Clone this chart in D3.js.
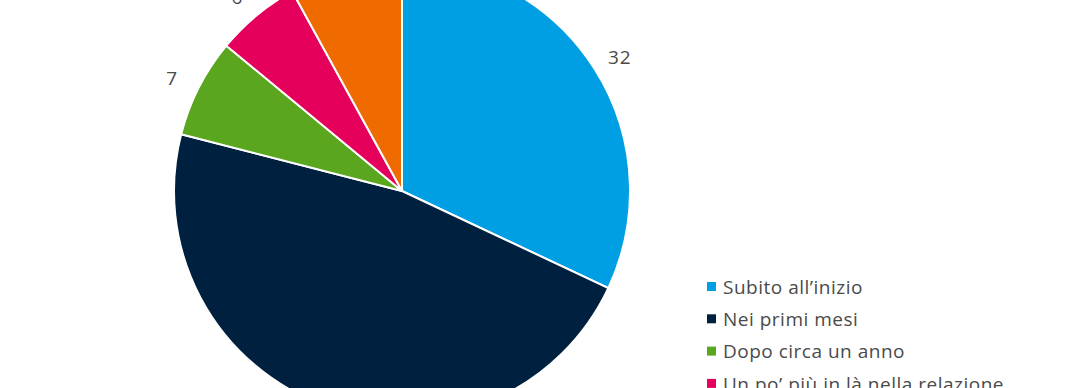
<!DOCTYPE html>
<html>
<head>
<meta charset="utf-8">
<script src="https://cdn.jsdelivr.net/npm/d3@7"></script>
<style>
  body { margin: 0; background: #fff; overflow: hidden; }
  text { font-family: "Open Sans", Lato, sans-serif; fill: #4a4a4a; }
</style>
</head>
<body>
<div id="main"></div>
<script>
// categories & values (percent), clockwise from 12 o'clock
var categories = ['Subito all\u2019inizio', 'Nei primi mesi', 'Dopo circa un anno', 'Un po\u2019 più in là nella relazione', 'Non so'];
var values = [32, 47, 7, 6, 8];
var colors = ['#009fe3', '#00203f', '#5aa61e', '#e4005b', '#ef6b00'];

var svgWidth = 1080, svgHeight = 388;
var cx = 402, cy = 191, radius = 228;

var svg = d3.select('#main').append('svg')
	.attr('width', svgWidth)
	.attr('height', svgHeight);

var pie = d3.pie().sort(null).value(function(d){ return d.value; });
var arcs = pie(values.map(function(v, i){ return {name: categories[i], value: v, color: colors[i]}; }));

var arc = d3.arc().innerRadius(0).outerRadius(radius);
var labelArc = d3.arc().innerRadius(258).outerRadius(258);

var g = svg.append('g').attr('transform', 'translate(' + cx + ',' + cy + ')');

g.selectAll('path')
	.data(arcs)
	.enter()
	.append('path')
	.attr('d', arc)
	.style('fill', function(d){ return d.data.color; })
	.style('stroke', '#fff')
	.style('stroke-width', 2);

// value labels outside the pie (the big slice has none in view)
g.selectAll('text.val')
	.data(arcs.filter(function(d){ return d.data.value != 47; }))
	.enter()
	.append('text')
	.attr('class', 'val')
	.attr('transform', function(d){ return 'translate(' + labelArc.centroid(d) + ')'; })
	.attr('text-anchor', 'middle')
	.attr('dy', '0.6em')
	.style('font-size', '19px')
	.style('letter-spacing', '1px')
	.text(function(d){ return d.data.value; });

// legend
var legend = svg.append('g').attr('transform', 'translate(707,287)');
var rowH = 32.3;

var rows = legend.selectAll('g')
	.data(arcs)
	.enter()
	.append('g')
	.attr('transform', function(d, i){ return 'translate(0,' + (i * rowH) + ')'; });

rows.append('rect')
	.attr('x', 0).attr('y', -5)
	.attr('width', 9).attr('height', 9)
	.style('fill', function(d){ return d.data.color; });

rows.append('text')
	.attr('x', 16)
	.attr('dy', '0.35em')
	.style('font-size', '19px')
	.style('letter-spacing', '0.5px')
	.text(function(d){ return d.data.name; });
</script>
</body>
</html>
